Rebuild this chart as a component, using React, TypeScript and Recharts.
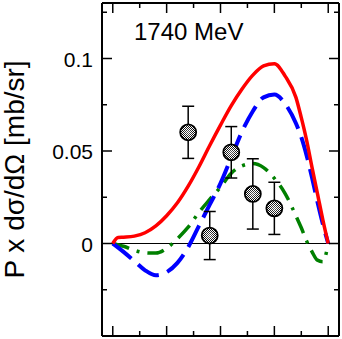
import React from "react"
import { ComposedChart, Line, Scatter, XAxis, YAxis, ReferenceLine, ErrorBar } from "recharts"

// cos(theta) grid for the model curves
const cosTheta = [-1, -0.95, -0.9, -0.8, -0.7, -0.6, -0.5, -0.4, -0.3, -0.2, -0.1, 0, 0.1, 0.2, 0.3, 0.4, 0.5, 0.6, 0.7, 0.75, 0.8, 0.85, 0.9, 0.95, 1]
const solidRed = [0, 0.0032, 0.0034, 0.004, 0.0058, 0.0095, 0.015, 0.022, 0.031, 0.0415, 0.053, 0.064, 0.0745, 0.0835, 0.091, 0.096, 0.0972, 0.0905, 0.079, 0.068, 0.0556, 0.041, 0.027, 0.0128, 0]
const dashedBlue = [0, -0.0022, -0.0045, -0.0095, -0.0145, -0.0172, -0.0155, -0.0105, -0.002, 0.0095, 0.021, 0.0325, 0.0465, 0.0605, 0.0715, 0.079, 0.0805, 0.0755, 0.065, 0.0575, 0.0475, 0.0355, 0.0225, 0.0105, 0]
const dashDotGreen = [0, -0.0008, -0.0015, -0.0037, -0.005, -0.0052, -0.0026, 0.0026, 0.0088, 0.0168, 0.0238, 0.0305, 0.038, 0.042, 0.0432, 0.041, 0.0352, 0.027, 0.015, 0.0085, 0.0013, -0.0045, -0.009, -0.0098, 0]

// measured points
const pointCos = [-0.3, -0.1, 0.1, 0.3, 0.5]
const pointValue = [0.0601, 0.0043, 0.0493, 0.0268, 0.019]
const pointError = [0.0141, 0.013, 0.0139, 0.019, 0.0141]

const xMajorTicks = [-1, -0.5, 0, 0.5, 1]
const xMinorTicks = [-0.75, -0.25, 0.25, 0.75]
const yMajorTicks = [0, 0.05, 0.1]
const yMinorTicks = [-0.025, 0.025, 0.075, 0.125]
const yTickLabels = ["0", "0.05", "0.1"]

const xDomain = [-1.1, 1.1]
const yDomain = [-0.05, 0.13]
const xTicks = [...xMajorTicks, ...xMinorTicks].sort((a, b) => a - b)
const yTicks = [...yMajorTicks, ...yMinorTicks].sort((a, b) => a - b)

const curveRows = cosTheta.map((c, i) => ({ c, red: solidRed[i], blue: dashedBlue[i], green: dashDotGreen[i] }))
const pointRows = pointCos.map((c, i) => ({ c, v: pointValue[i], err: pointError[i] }))
// tick marks on the left, right and top frame, placed through the chart scales
const leftTickRows = yTicks.map((v) => ({ c: xDomain[0], v, major: yMajorTicks.includes(v) }))
const rightTickRows = yTicks.map((v) => ({ c: xDomain[1], v, major: yMajorTicks.includes(v) }))
const topTickRows = xTicks.map((c) => ({ c, v: yDomain[1], major: xMajorTicks.includes(c) }))

const font = "'Liberation Sans', Arial, Helvetica, sans-serif"
const frame = { stroke: "#000", strokeWidth: 2 }

const tickLen = (major: boolean) => (major ? 10 : 5)

function bottomTick({ x, y, payload }: any) {
  const px = Number(x)
  const py = Number(y)
  const len = tickLen(xMajorTicks.includes(payload.value))
  return (
    <g>
      <line x1={px} x2={px} y1={py} y2={py - len} stroke="#000" strokeWidth={1.5} />
    </g>
  )
}

function leftLabel({ x, y, payload }: any) {
  const idx = yMajorTicks.indexOf(payload.value)
  if (idx < 0) return <g />
  return (
    <text x={Number(x) - 9} y={Number(y)} dy={8} textAnchor="end" fontSize={21} fontFamily={font} fill="#000">
      {yTickLabels[idx]}
    </text>
  )
}

function frameTick(dx: number, dy: number) {
  return ({ cx, cy, payload }: any) => {
    const len = tickLen(!!payload?.major)
    return <line x1={cx} y1={cy} x2={cx + dx * len} y2={cy + dy * len} stroke="#000" strokeWidth={1.5} />
  }
}

function Marker({ cx, cy }: any) {
  return (
    <g>
      <defs>
        <pattern id="checker" width="2" height="2" patternUnits="userSpaceOnUse">
          <rect width="2" height="2" fill="#fff" />
          <rect width="1" height="1" fill="#000" />
          <rect x="1" y="1" width="1" height="1" fill="#000" />
        </pattern>
        <radialGradient id="shine">
          <stop offset="0%" stopColor="#fff" stopOpacity={0.4} />
          <stop offset="100%" stopColor="#fff" stopOpacity={0} />
        </radialGradient>
      </defs>
      <circle cx={cx} cy={cy} r={8} fill="url(#checker)" stroke="#000" strokeWidth={1.8} />
      <circle cx={cx} cy={cy} r={6.5} fill="url(#shine)" />
    </g>
  )
}

export default function App() {
  return (
    <div style={{ position: "absolute", left: 0, top: 0, width: 342, height: 339, background: "#fff" }}>
      <ComposedChart width={342} height={339} data={curveRows} margin={{ top: 0, right: 0, bottom: 0, left: 0 }}>
        <XAxis
          xAxisId="bottom"
          dataKey="c"
          type="number"
          domain={xDomain}
          allowDataOverflow
          ticks={xTicks}
          interval={0}
          height={3}
          tickSize={0}
          tickMargin={0}
          tickLine={false}
          axisLine={frame}
          tick={bottomTick}
        />
        <XAxis
          xAxisId="top"
          orientation="top"
          dataKey="c"
          type="number"
          domain={xDomain}
          allowDataOverflow
          ticks={xTicks}
          interval={0}
          height={3}
          tickLine={false}
          tickFormatter={() => ""}
          axisLine={frame}
        />
        <YAxis
          yAxisId="left"
          type="number"
          domain={yDomain}
          allowDataOverflow
          ticks={yMajorTicks}
          interval={0}
          width={102}
          tickSize={0}
          tickMargin={0}
          tickLine={false}
          axisLine={frame}
          tick={leftLabel}
          label={{
            value: "P x dσ/dΩ [mb/sr]",
            angle: -90,
            position: "insideLeft",
            offset: 14,
            style: { textAnchor: "middle", fontSize: 28, fontFamily: font, fill: "#000" },
          }}
        />
        <YAxis
          yAxisId="right"
          orientation="right"
          type="number"
          domain={yDomain}
          allowDataOverflow
          ticks={yTicks}
          interval={0}
          width={3}
          tickLine={false}
          tickFormatter={() => ""}
          axisLine={frame}
        />
        <ReferenceLine xAxisId="bottom" yAxisId="left" y={0} stroke="#000" strokeWidth={1} />
        <Scatter xAxisId="bottom" yAxisId="left" data={leftTickRows} dataKey="v" shape={frameTick(1, 0)} isAnimationActive={false} />
        <Scatter xAxisId="bottom" yAxisId="left" data={rightTickRows} dataKey="v" shape={frameTick(-1, 0)} isAnimationActive={false} />
        <Scatter xAxisId="bottom" yAxisId="left" data={topTickRows} dataKey="v" shape={frameTick(0, 1)} isAnimationActive={false} />
        <Line xAxisId="bottom" yAxisId="left" type="monotone" dataKey="green" stroke="#008000" strokeWidth={3.5} strokeDasharray="17 8 3 8" dot={false} isAnimationActive={false} />
        <Line xAxisId="bottom" yAxisId="left" type="monotone" dataKey="blue" stroke="#0000ff" strokeWidth={4} strokeDasharray="24 9" dot={false} isAnimationActive={false} />
        <Line xAxisId="bottom" yAxisId="left" type="monotone" dataKey="red" stroke="#ff0000" strokeWidth={3.5} dot={false} isAnimationActive={false} />
        <Scatter xAxisId="bottom" yAxisId="left" data={pointRows} dataKey="v" shape={Marker} isAnimationActive={false}>
          <ErrorBar dataKey="err" direction="y" width={6} stroke="#000" strokeWidth={1.5} />
        </Scatter>
      </ComposedChart>
      <div
        style={{
          position: "absolute",
          left: 134,
          top: 20,
          fontFamily: font,
          fontSize: 24,
          lineHeight: "24px",
          whiteSpace: "nowrap",
          color: "#000",
        }}
      >
        1740 MeV
      </div>
    </div>
  )
}
